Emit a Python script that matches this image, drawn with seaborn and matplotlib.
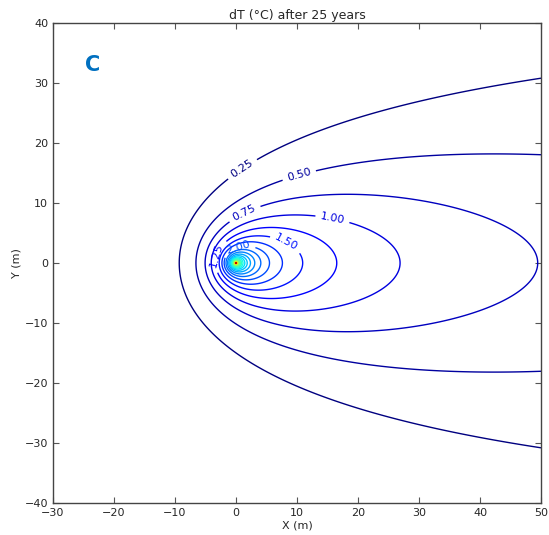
import numpy as np
import matplotlib
matplotlib.use("Agg")
import matplotlib.pyplot as plt
from matplotlib.colors import Normalize
import seaborn as sns

# ---- data ----
# contour levels of temperature change dT (°C)
levels = [0.25, 0.50, 0.75, 1.00, 1.25, 1.50, 1.75, 2.00, 2.25, 2.50, 2.75,
          3.00, 3.25, 3.50, 3.75, 4.00, 4.25, 4.50, 4.75, 5.00, 5.25, 5.50,
          5.75, 6.00, 6.25, 6.50, 6.75, 7.00, 7.25, 7.50, 7.75, 8.00, 8.25,
          8.50, 8.75, 9.00]
labelled_levels = [0.25, 0.50, 0.75, 1.00, 1.25, 1.50, 2.00]
x_ticks = [-30, -20, -10, 0, 10, 20, 30, 40, 50]
y_ticks = [-40, -30, -20, -10, 0, 10, 20, 30, 40]
# moving line source model parameters
peclet_b = 0.10      # u / (2 a), 1/m
amp_c = 1.362        # q / (2 pi lambda), °C
aniso_s = 1.08       # transverse stretching factor
title = "dT (°C) after 25 years"
panel = "C"

# label anchor spots, one per labelled level (styling only)
label_spots = [(0.3, 16.8), (10.2, 15.2), (1.3, 8.5), (15.9, 7.8),
               (-3.4, 1.3), (8.4, 3.7), (0.1, 3.6)]

# ---- field ----
xs = np.unique(np.concatenate([np.linspace(-30, 50, 801) + 0.0025,
                               np.linspace(-1.5, 1.5, 300)]))
ys = np.unique(np.concatenate([np.linspace(-40, 40, 801) + 0.0025,
                               np.linspace(-1.5, 1.5, 300)]))
X, Y = np.meshgrid(xs, ys)
Z = peclet_b * np.sqrt(X ** 2 + (aniso_s * Y) ** 2)
tt = np.linspace(0, 16, 480)
dt = tt[1] - tt[0]
K0 = np.zeros_like(Z)
for i, t in enumerate(tt):
    w = 0.5 if i in (0, len(tt) - 1) else 1.0
    K0 += w * np.exp(-Z * np.cosh(t)) * dt
T = amp_c * np.exp(peclet_b * X) * K0

# ---- plot ----
sns.set_style("ticks")
plt.rcParams["font.family"] = ["DejaVu Sans"]
fig = plt.figure(figsize=(5.49, 5.35), dpi=100)
ax = fig.add_axes([53 / 549, 1 - 503 / 535, 488 / 549, 480 / 535])

cmap = plt.get_cmap("jet")
norm = Normalize(min(levels), max(levels))
plain = [lv for lv in levels if lv not in labelled_levels]
ax.contour(X, Y, T, levels=plain, cmap=cmap, norm=norm, linewidths=1.0)
for lvl, spot in zip(labelled_levels, label_spots):
    c = ax.contour(X, Y, T, levels=[lvl], colors=[cmap(norm(lvl))],
                   linewidths=1.0)
    ax.clabel(c, inline=True, fontsize=8, fmt="%.2f", manual=[spot])

ax.set_xlim(-30, 50)
ax.set_ylim(-40, 40)
ax.set_xticks(x_ticks)
ax.set_yticks(y_ticks)
ax.tick_params(direction="in", top=True, right=True, length=4, labelsize=8,
               color="#555555")
for s in ax.spines.values():
    s.set_color("#444444")
    s.set_linewidth(1.0)
ax.set_xlabel("X (m)", fontsize=8, labelpad=2)
ax.set_ylabel("Y (m)", fontsize=8, labelpad=2)
ax.set_title(title, fontsize=9, pad=3)
ax.text(0.082, 0.9125, panel, transform=ax.transAxes, fontsize=15,
        fontweight="bold", color="#0070c0", ha="center", va="center")

fig.savefig("out.png", dpi=100)
